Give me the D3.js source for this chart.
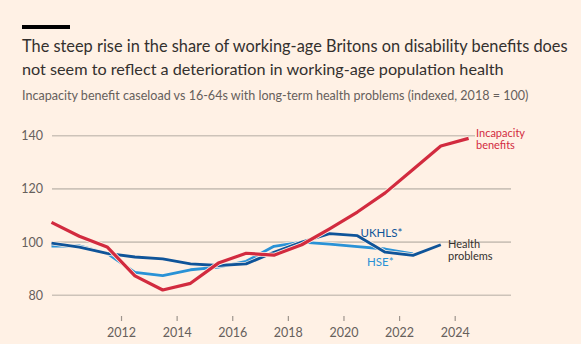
<!DOCTYPE html>
<html>
<head>
<meta charset="utf-8">
<script src="https://cdn.jsdelivr.net/npm/d3@7"></script>
<style>
  html, body { margin: 0; padding: 0; background: #fff1e5; }
  svg { display: block; }
  text { font-family: Lato, "Noto Sans", sans-serif; }
</style>
</head>
<body>
<svg id="chart" width="581" height="344"></svg>
<script>
// Financial years (plotted at mid-year)
const years = [2009, 2010, 2011, 2012, 2013, 2014, 2015, 2016, 2017, 2018, 2019, 2020, 2021, 2022, 2023, 2024];
const incapacity = [107.4, 102.2, 98.2, 87.3, 82.0, 84.5, 92.1, 95.8, 95.1, 99.0, 105.0, 111.3, 118.5, 127.3, 136.1, 139.0];
const ukhls = [99.6, 98.1, 95.8, 94.4, 93.7, 91.8, 91.2, 91.8, 96.2, 100.0, 103.2, 102.4, 96.2, 95.0, 99.0, null];
const hse = [98.5, 98.6, 95.8, 88.6, 87.4, 89.6, 90.6, 92.8, 98.4, 100.0, 99.2, 98.3, 97.4, 95.6, null, null];
const yTicks = [80, 100, 120, 140];
const xTicks = [2012, 2014, 2016, 2018, 2020, 2022, 2024];

const title1 = "The steep rise in the share of working-age Britons on disability benefits does";
const title2 = "not seem to reflect a deterioration in working-age population health";
const subtitle = "Incapacity benefit caseload vs 16-64s with long-term health problems (indexed, 2018 = 100)";

const BG = "#fff1e5", RED = "#d22b3f", DARK = "#0f5499", LIGHT = "#2a92d6";
const TEXT = "#33302e", GREY = "#66605c", GRID = "#cdc3b9";

const svg = d3.select("#chart");
svg.append("rect").attr("width", 581).attr("height", 344).attr("fill", BG);

// top bar
svg.append("rect").attr("x", 22).attr("y", 25).attr("width", 48).attr("height", 4).attr("fill", "#000");

function fitText(sel, target, base) {
  sel.attr("font-size", base);
  const w = sel.node().getComputedTextLength();
  sel.attr("font-size", base * target / w);
}
fitText(svg.append("text").attr("x", 22).attr("y", 52).attr("fill", TEXT).text(title1), 546, 18);
fitText(svg.append("text").attr("x", 22).attr("y", 75).attr("fill", TEXT).text(title2), 482, 18);
fitText(svg.append("text").attr("x", 22).attr("y", 99.5).attr("fill", GREY).text(subtitle), 507, 12);

const x = d3.scaleLinear().domain([2010, 2024]).range([65.4, 454.7]);
const y = d3.scaleLinear().domain([80, 140]).range([295.3, 135.7]);
const gridX0 = 52, gridX1 = 511;

// gridlines
const gy = svg.append("g");
yTicks.forEach(t => {
  gy.append("line").attr("x1", gridX0).attr("x2", gridX1)
    .attr("y1", y(t)).attr("y2", y(t))
    .attr("stroke", GRID).attr("stroke-width", 1.6);
  gy.append("text").attr("x", 43).attr("y", y(t)).attr("dy", "0.36em")
    .attr("text-anchor", "end").attr("fill", GREY).attr("font-size", 12.5).text(t);
});

// x axis
const xAxis = d3.axisBottom(x).tickValues(xTicks).tickFormat(d3.format("d")).tickSize(5).tickPadding(4);
const gx = svg.append("g").attr("transform", "translate(0,316)").call(xAxis);
gx.select(".domain").remove();
gx.selectAll(".tick line").attr("stroke", "#9e958d").attr("stroke-width", 1.2);
gx.selectAll(".tick text").attr("fill", GREY).attr("font-size", 12.5)
  .attr("font-family", "Lato, 'Noto Sans', sans-serif").attr("dy", "0.95em");

// lines
const mk = vals => years.map((yr, i) => ({ x: yr + 0.5, v: vals[i] })).filter(d => d.v != null);
const line = d3.line().x(d => x(d.x)).y(d => y(d.v));
const gl = svg.append("g").attr("fill", "none").attr("stroke-linejoin", "round");
function drawLine(vals, color, w) {
  const data = mk(vals);
  gl.append("path").datum(data).attr("d", line).attr("stroke", BG).attr("stroke-width", w + 1.6);
  gl.append("path").datum(data).attr("d", line).attr("stroke", color).attr("stroke-width", w);
}
drawLine(hse, LIGHT, 2.8);
drawLine(ukhls, DARK, 2.8);
drawLine(incapacity, RED, 3.2);

// labels
const lab = svg.append("g").attr("font-size", 11.5);
const bgRect = lab.append("rect").attr("fill", BG);
const inc1 = lab.append("text").attr("x", 476).attr("y", 136.5).attr("fill", RED).attr("font-size", 11).text("Incapacity");
const inc2 = lab.append("text").attr("x", 476).attr("y", 148.5).attr("fill", RED).attr("font-size", 11).text("benefits");
const b1 = inc1.node().getBBox(), b2 = inc2.node().getBBox();
bgRect.attr("x", b1.x - 1).attr("y", b1.y).attr("width", Math.max(b1.width, b2.width) + 2)
  .attr("height", b2.y + b2.height - b1.y);

lab.append("text").attr("x", 360.5).attr("y", 236.5).attr("fill", DARK).text("UKHLS*");
lab.append("text").attr("x", 367).attr("y", 266).attr("fill", LIGHT).text("HSE*");
lab.append("text").attr("x", 448).attr("y", 248).attr("fill", TEXT).attr("font-size", 11).text("Health");
lab.append("text").attr("x", 448).attr("y", 260).attr("fill", TEXT).attr("font-size", 11).text("problems");
</script>
</body>
</html>
